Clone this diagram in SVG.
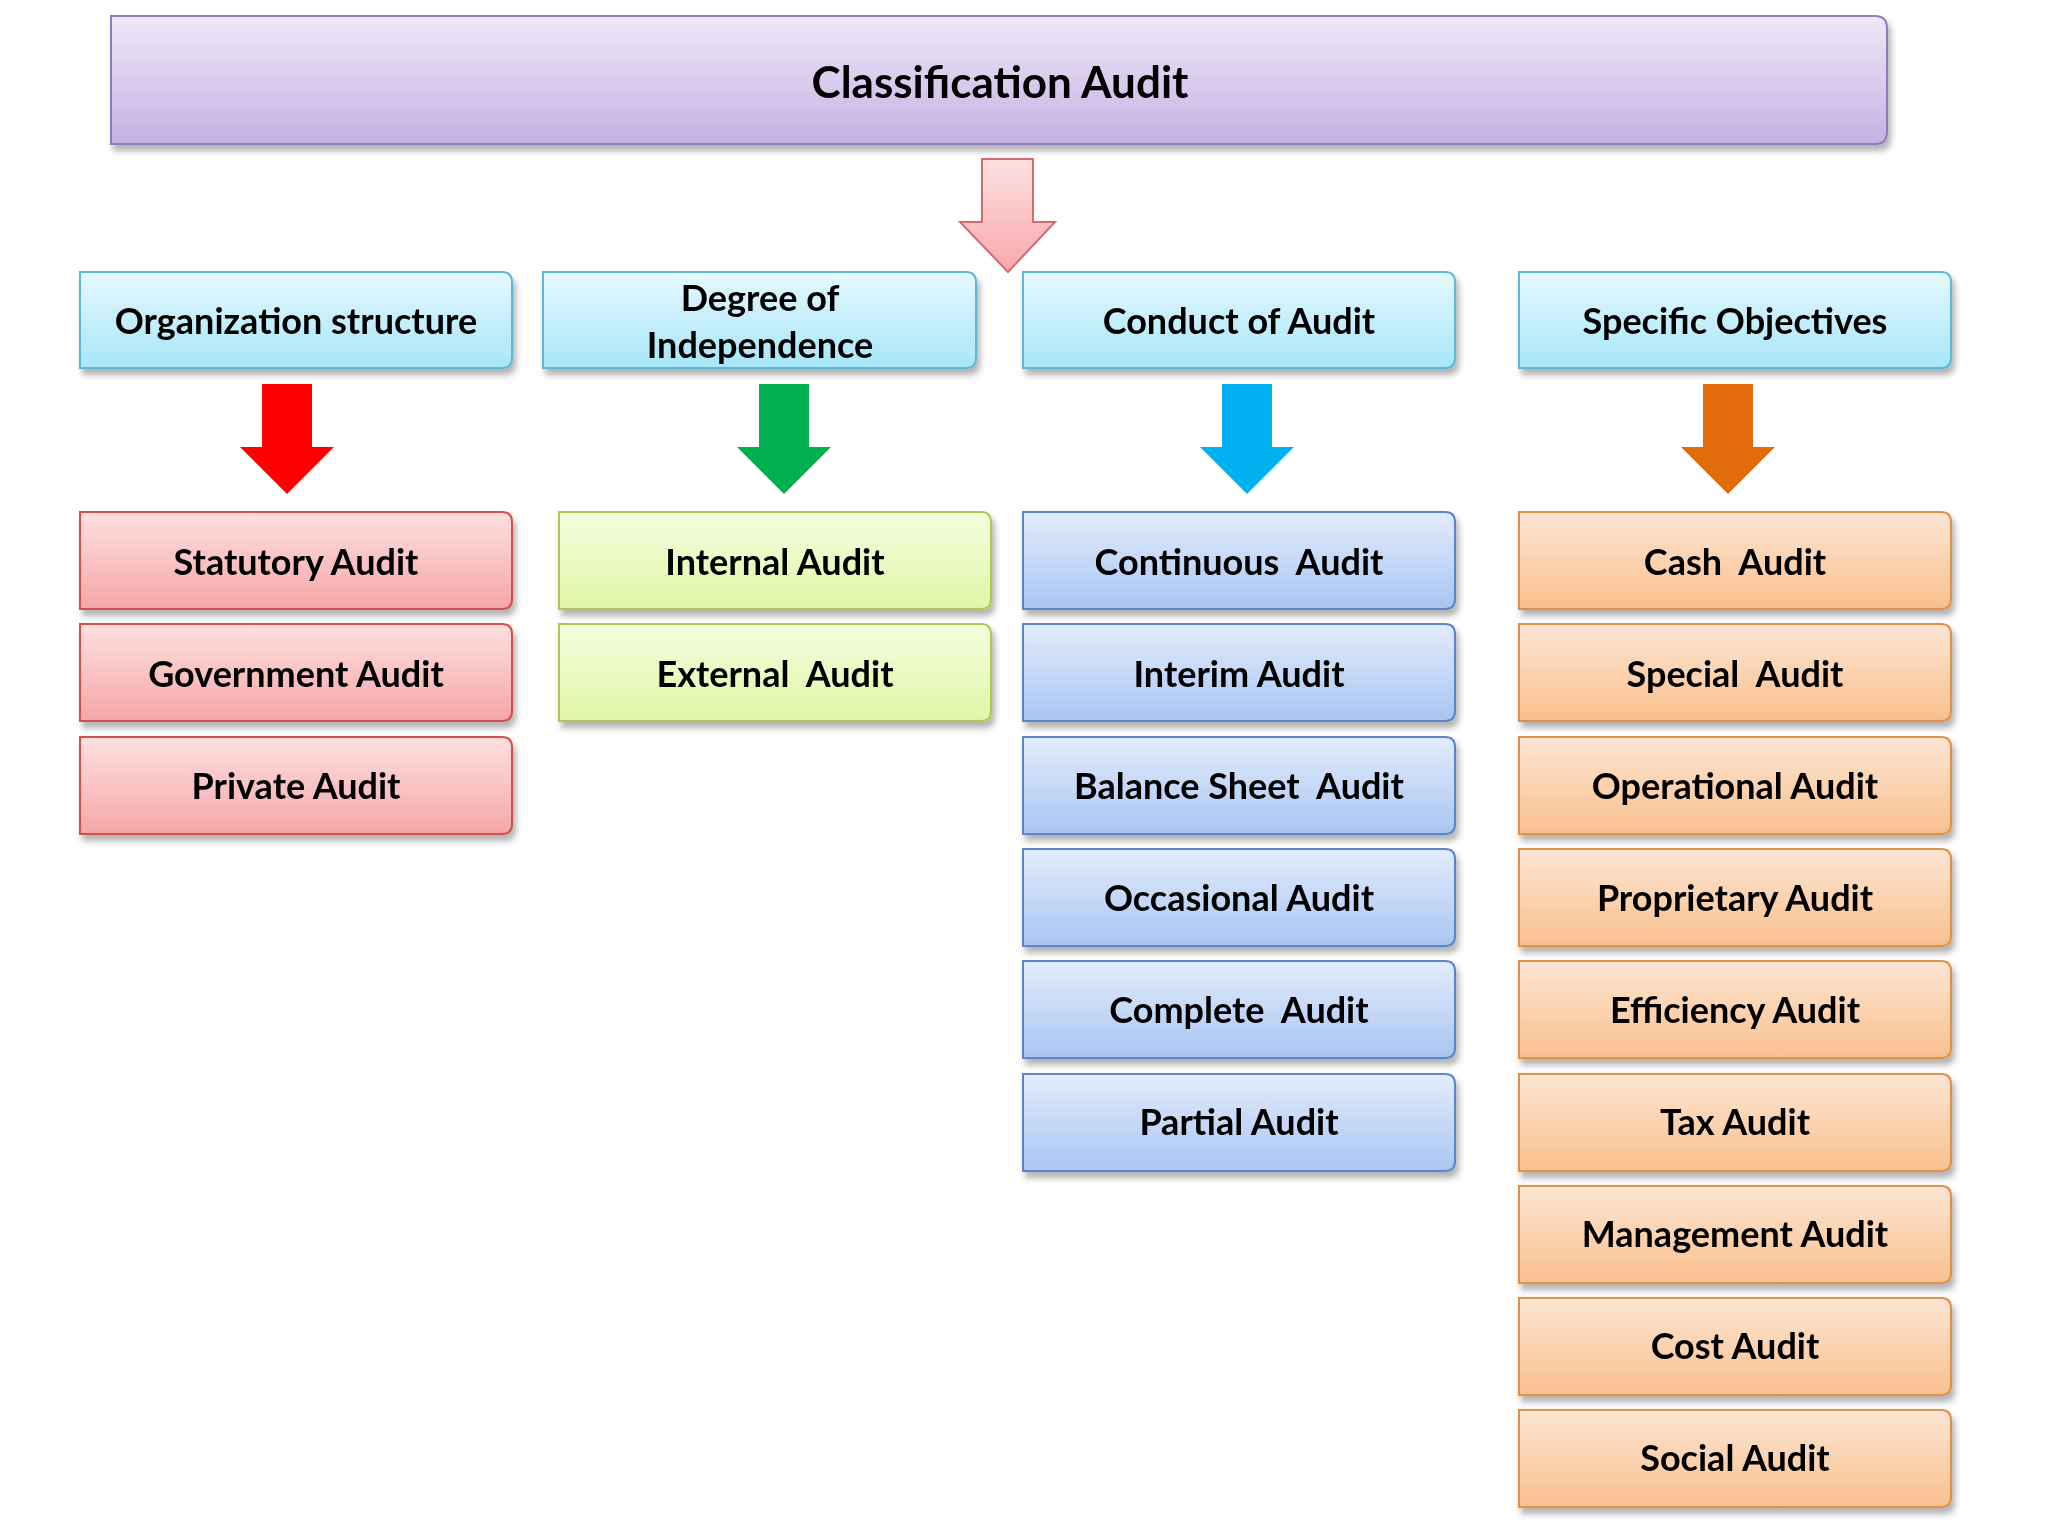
<svg xmlns="http://www.w3.org/2000/svg" width="2048" height="1536" viewBox="0 0 2048 1536">
<style>
text{font-family:Lato,"Open Sans",sans-serif;font-weight:bold;fill:#000;text-anchor:middle;dominant-baseline:central}
.t{font-size:36px}
</style>
<defs>
<linearGradient id="gp" x1="0" y1="0" x2="0" y2="1"><stop offset="0" stop-color="#efe8f8"/><stop offset="1" stop-color="#c6b0e4"/></linearGradient>
<linearGradient id="gc" x1="0" y1="0" x2="0" y2="1"><stop offset="0" stop-color="#e6f8fe"/><stop offset="1" stop-color="#a6e6f8"/></linearGradient>
<linearGradient id="gr" x1="0" y1="0" x2="0" y2="1"><stop offset="0" stop-color="#fde0e0"/><stop offset="1" stop-color="#f6a6a6"/></linearGradient>
<linearGradient id="gg" x1="0" y1="0" x2="0" y2="1"><stop offset="0" stop-color="#f6fde0"/><stop offset="1" stop-color="#def7a6"/></linearGradient>
<linearGradient id="gb" x1="0" y1="0" x2="0" y2="1"><stop offset="0" stop-color="#e2ecfc"/><stop offset="1" stop-color="#a9c5f2"/></linearGradient>
<linearGradient id="go" x1="0" y1="0" x2="0" y2="1"><stop offset="0" stop-color="#fde6d4"/><stop offset="1" stop-color="#f9bf8c"/></linearGradient>
<linearGradient id="ga" x1="0" y1="0" x2="0" y2="1"><stop offset="0" stop-color="#fde0e0"/><stop offset="1" stop-color="#f7a8ac"/></linearGradient>
<filter id="sh" x="-5%" y="-5%" width="110%" height="130%"><feDropShadow dx="3" dy="6" stdDeviation="3" flood-color="#000" flood-opacity="0.3"/></filter>
</defs>
<g id="title" filter="url(#sh)"><path d="M111,16 H1875 Q1887,16 1887,28 V132 Q1887,144 1875,144 H111 Z" fill="url(#gp)" stroke="#8e7cb8" stroke-width="2"/><text x="1000" y="81" style="font-size:44px">Classification Audit</text></g>
<g id="connectors">
<path d="M982,159 H1033 V222 H1055 L1008,272 L960,222 H982 Z" fill="url(#ga)" stroke="#d46a70" stroke-width="2"/>
<path d="M262,384 H312 V447 H334 L287,494 L240,447 H262 Z" fill="#ff0000"/>
<path d="M759,384 H809 V447 H831 L784,494 L737,447 H759 Z" fill="#00b050"/>
<path d="M1222,384 H1272 V447 H1294 L1247,494 L1200,447 H1222 Z" fill="#00b0f0"/>
<path d="M1703,384 H1753 V447 H1775 L1728,494 L1681,447 H1703 Z" fill="#e36c0a"/>
</g>
<g stroke-width="2" filter="url(#sh)">
<g id="c1"><path d="M80,272 H502 Q512,272 512,282 V358 Q512,368 502,368 H80 Z" fill="url(#gc)" stroke="#5fb8d4"/><text class="t" x="296" y="320">Organization structure</text></g>
<g id="c2"><path d="M543,272 H966 Q976,272 976,282 V358 Q976,368 966,368 H543 Z" fill="url(#gc)" stroke="#5fb8d4"/><text class="t" x="760" y="297">Degree of</text><text class="t" x="760" y="344">Independence</text></g>
<g id="c3"><path d="M1023,272 H1445 Q1455,272 1455,282 V358 Q1455,368 1445,368 H1023 Z" fill="url(#gc)" stroke="#5fb8d4"/><text class="t" x="1239" y="320">Conduct of Audit</text></g>
<g id="c4"><path d="M1519,272 H1941 Q1951,272 1951,282 V358 Q1951,368 1941,368 H1519 Z" fill="url(#gc)" stroke="#5fb8d4"/><text class="t" x="1735" y="320">Specific Objectives</text></g>

<g id="r1"><path d="M80,512 H502 Q512,512 512,522 V599 Q512,609 502,609 H80 Z" fill="url(#gr)" stroke="#d05050"/><text class="t" x="296" y="561">Statutory Audit</text></g>
<g id="r2"><path d="M80,624 H502 Q512,624 512,634 V711 Q512,721 502,721 H80 Z" fill="url(#gr)" stroke="#d05050"/><text class="t" x="296" y="673">Government Audit</text></g>
<g id="r3"><path d="M80,737 H502 Q512,737 512,747 V824 Q512,834 502,834 H80 Z" fill="url(#gr)" stroke="#d05050"/><text class="t" x="296" y="785">Private Audit</text></g>

<g id="g1"><path d="M559,512 H981 Q991,512 991,522 V599 Q991,609 981,609 H559 Z" fill="url(#gg)" stroke="#a8cc50"/><text class="t" x="775" y="561">Internal Audit</text></g>
<g id="g2"><path d="M559,624 H981 Q991,624 991,634 V711 Q991,721 981,721 H559 Z" fill="url(#gg)" stroke="#a8cc50"/><text class="t" x="775" y="673" xml:space="preserve">External  Audit</text></g>

<g id="b1"><path d="M1023,512 H1445 Q1455,512 1455,522 V599 Q1455,609 1445,609 H1023 Z" fill="url(#gb)" stroke="#5a85c8"/><text class="t" x="1239" y="561" xml:space="preserve">Continuous  Audit</text></g>
<g id="b2"><path d="M1023,624 H1445 Q1455,624 1455,634 V711 Q1455,721 1445,721 H1023 Z" fill="url(#gb)" stroke="#5a85c8"/><text class="t" x="1239" y="673">Interim Audit</text></g>
<g id="b3"><path d="M1023,737 H1445 Q1455,737 1455,747 V824 Q1455,834 1445,834 H1023 Z" fill="url(#gb)" stroke="#5a85c8"/><text class="t" x="1239" y="785" xml:space="preserve">Balance Sheet  Audit</text></g>
<g id="b4"><path d="M1023,849 H1445 Q1455,849 1455,859 V936 Q1455,946 1445,946 H1023 Z" fill="url(#gb)" stroke="#5a85c8"/><text class="t" x="1239" y="897">Occasional Audit</text></g>
<g id="b5"><path d="M1023,961 H1445 Q1455,961 1455,971 V1048 Q1455,1058 1445,1058 H1023 Z" fill="url(#gb)" stroke="#5a85c8"/><text class="t" x="1239" y="1009" xml:space="preserve">Complete  Audit</text></g>
<g id="b6"><path d="M1023,1074 H1445 Q1455,1074 1455,1084 V1161 Q1455,1171 1445,1171 H1023 Z" fill="url(#gb)" stroke="#5a85c8"/><text class="t" x="1239" y="1121">Partial Audit</text></g>

<g id="o1"><path d="M1519,512 H1941 Q1951,512 1951,522 V599 Q1951,609 1941,609 H1519 Z" fill="url(#go)" stroke="#e0904a"/><text class="t" x="1735" y="561" xml:space="preserve">Cash  Audit</text></g>
<g id="o2"><path d="M1519,624 H1941 Q1951,624 1951,634 V711 Q1951,721 1941,721 H1519 Z" fill="url(#go)" stroke="#e0904a"/><text class="t" x="1735" y="673" xml:space="preserve">Special  Audit</text></g>
<g id="o3"><path d="M1519,737 H1941 Q1951,737 1951,747 V824 Q1951,834 1941,834 H1519 Z" fill="url(#go)" stroke="#e0904a"/><text class="t" x="1735" y="785">Operational Audit</text></g>
<g id="o4"><path d="M1519,849 H1941 Q1951,849 1951,859 V936 Q1951,946 1941,946 H1519 Z" fill="url(#go)" stroke="#e0904a"/><text class="t" x="1735" y="897">Proprietary Audit</text></g>
<g id="o5"><path d="M1519,961 H1941 Q1951,961 1951,971 V1048 Q1951,1058 1941,1058 H1519 Z" fill="url(#go)" stroke="#e0904a"/><text class="t" x="1735" y="1009">Efficiency Audit</text></g>
<g id="o6"><path d="M1519,1074 H1941 Q1951,1074 1951,1084 V1161 Q1951,1171 1941,1171 H1519 Z" fill="url(#go)" stroke="#e0904a"/><text class="t" x="1735" y="1121">Tax Audit</text></g>
<g id="o7"><path d="M1519,1186 H1941 Q1951,1186 1951,1196 V1273 Q1951,1283 1941,1283 H1519 Z" fill="url(#go)" stroke="#e0904a"/><text class="t" x="1735" y="1233">Management Audit</text></g>
<g id="o8"><path d="M1519,1298 H1941 Q1951,1298 1951,1308 V1385 Q1951,1395 1941,1395 H1519 Z" fill="url(#go)" stroke="#e0904a"/><text class="t" x="1735" y="1345">Cost Audit</text></g>
<g id="o9"><path d="M1519,1410 H1941 Q1951,1410 1951,1420 V1497 Q1951,1507 1941,1507 H1519 Z" fill="url(#go)" stroke="#e0904a"/><text class="t" x="1735" y="1457">Social Audit</text></g>
</g>
</svg>
